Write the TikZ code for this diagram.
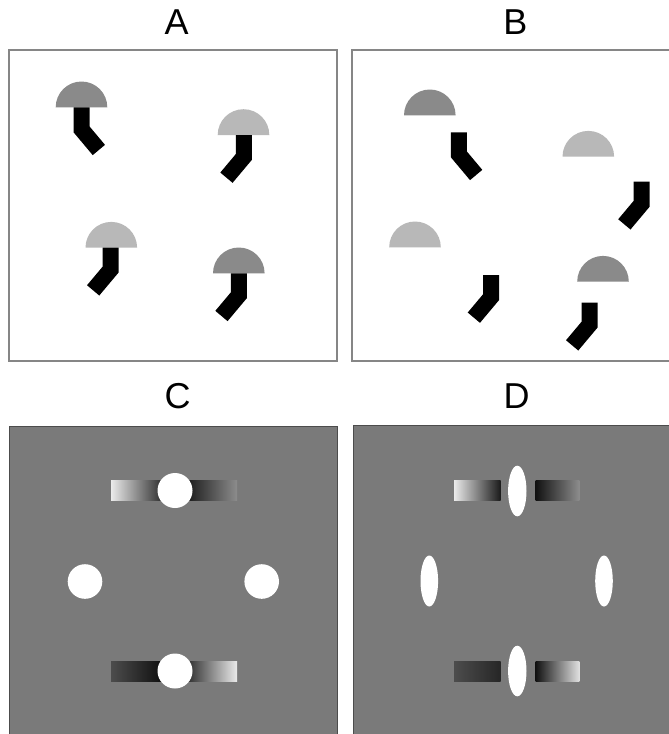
\documentclass[tikz,border=0pt]{standalone}
\usepackage{fontspec}
\setmainfont{Liberation Sans}
\usepackage{tikz}
\usetikzlibrary{calc}

\definecolor{capdark}{gray}{0.54}
\definecolor{caplight}{gray}{0.72}
\definecolor{panelgray}{gray}{0.48}
\definecolor{endgray}{gray}{0.55}

\tikzset{
  pics/cap/.style={code={\fill[#1] (-25.8,0) arc (180:0:25.8) -- cycle;}},
  pics/stem/.style={code={\draw[line width=16pt, line join=miter] (0,0) -- (0,-22) -- ++(#1:27);}},
}

\begin{document}
\begin{tikzpicture}[x=1pt, y=1pt,
    every node/.style={font=\fontsize{36}{40}\selectfont, inner sep=0pt},
    whitebox/.style={draw=gray!95, line width=1.5pt, fill=white},
    greybox/.style={draw=black!70, line width=1pt, fill=panelgray}]
  \useasboundingbox (0,0) rectangle (669,-734);

  % panel labels
  \node (labA) at (176.7,-22.3) {A};
  \node (labB) at (515.5,-22.3) {B};
  \node (labC) at (177.5,-396.3) {C};
  \node (labD) at (516.7,-396.3) {D};

  % A: stems joined to their caps
  \draw[whitebox] (9,-50) rectangle (337,-361);
  \pic at (81.5,-107.3) {cap=capdark};   \pic at (81.5,-107.3) {stem=-50};
  \pic at (243.5,-135)  {cap=caplight};  \pic at (243.8,-135)  {stem=-130};
  \pic at (111.3,-247.7) {cap=caplight}; \pic at (110.5,-247.7) {stem=-130};
  \pic at (238.8,-273.3) {cap=capdark};  \pic at (238.8,-273.3) {stem=-130};

  % B: caps and stems apart
  \draw[whitebox] (352,-50) rectangle (673,-361);
  \pic at (429.8,-115.3) {cap=capdark};  \pic at (458.8,-132.3) {stem=-50};
  \pic at (588.3,-156.7) {cap=caplight}; \pic at (641.7,-181.7) {stem=-130};
  \pic at (415,-247.3)   {cap=caplight}; \pic at (491.2,-275)   {stem=-130};
  \pic at (603,-281.7)   {cap=capdark};  \pic at (589.5,-302.7) {stem=-130};

  % C: discs over the bars
  \draw[greybox] (9,-426) rectangle (337,-740);
  \shade[left color=white!92!black, right color=black] (111,-480.5) rectangle (175,-500.5);
  \shade[left color=black, right color=endgray] (175,-480.5) rectangle (237,-500.5);
  \shade[left color=black!70, right color=black] (111,-661) rectangle (175,-681);
  \shade[left color=black, right color=white!92!black] (175,-661) rectangle (237,-681);
  \fill[white] (175,-490.5) circle (17.5);
  \fill[white] (175,-671) circle (17.5);
  \fill[white] (85,-581.5) circle (17.3);
  \fill[white] (261.7,-581.5) circle (17.3);

  % D: thin ellipses between bar pieces
  \draw[greybox] (353,-425) rectangle (675,-740);
  \shade[left color=white!92!black, right color=black!90] (454,-480.5) rectangle (500.7,-500.5);
  \shade[left color=black!93, right color=endgray] (535.7,-480.5) rectangle (579.3,-500.5);
  \shade[left color=black!70, right color=black!85] (454,-661) rectangle (500.7,-681);
  \shade[left color=black!93, right color=white!88!black] (535.7,-661) rectangle (579.3,-681);
  \fill[white] (517.3,-491) ellipse (9.2 and 25.3);
  \fill[white] (517.3,-671) ellipse (9.2 and 25.3);
  \fill[white] (429.3,-581) ellipse (8.8 and 25.5);
  \fill[white] (604,-581) ellipse (8.8 and 25.5);
\end{tikzpicture}
\end{document}
